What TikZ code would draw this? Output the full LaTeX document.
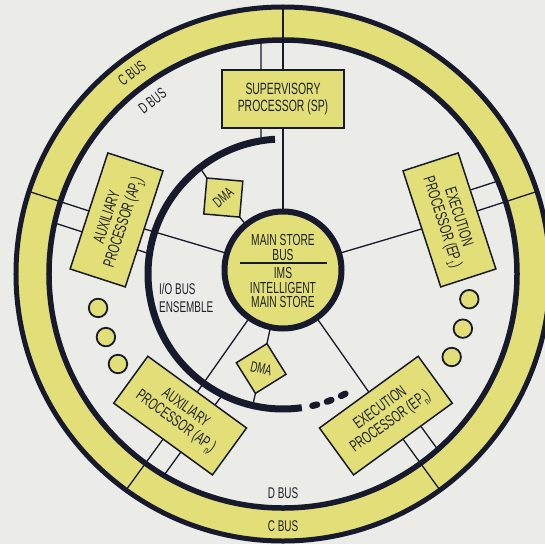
\documentclass[tikz,border=0pt]{standalone}
\usepackage{fontspec}
\setmainfont[FakeStretch=0.64]{Liberation Sans}
\usetikzlibrary{calc,shapes.geometric}
\pgfdeclarelayer{back}
\pgfdeclarelayer{wires}
\pgfsetlayers{back,wires,main}
\definecolor{bg}{HTML}{EBEBE7}
\definecolor{ylw}{HTML}{E2DF78}
\definecolor{ink}{HTML}{161A2C}
\definecolor{txt}{HTML}{202028}
\newcommand\mysub[1]{\raisebox{-0.5ex}{\fontsize{10.5}{10.5}\selectfont #1}}
\begin{document}
\begin{tikzpicture}[x=1pt,y=1pt,
  proc/.style={draw=ink, line width=1.5, fill=ylw, minimum width=122, minimum height=58, inner sep=0, outer sep=0, align=center, text=txt, font=\fontsize{16.3}{17}\selectfont},
  wire/.style={draw=ink, line width=1.3},
  lbl/.style={text=txt, font=\fontsize{15.5}{17.5}\selectfont, inner sep=0},
  mstext/.style={text=txt, align=center, inner sep=0, font=\fontsize{16}{14.5}\selectfont},
  dmabox/.style={diamond, aspect=1, draw=ink, line width=1.5, fill=ylw, minimum size=51, inner sep=0, outer sep=0, text=txt, font=\fontsize{15}{15}\selectfont},
  dotc/.style={circle, draw=ink, line width=1.8, fill=ylw, minimum size=18.5, inner sep=0}
]
\useasboundingbox (-283,-270) rectangle (262,274);
\begin{pgfonlayer}{back}
\fill[bg] (-283,-270) rectangle (262,274);
\fill[ylw, even odd rule] (0,0) circle[radius=267] (0,0) circle[radius=234];
\draw[ink, line width=5] (0,0) circle[radius=267];
\draw[ink, line width=5.5] (0,0) circle[radius=234];
\end{pgfonlayer}

% I/O bus ensemble arc
\draw[ink, line width=7] (93.4:135) arc[start angle=93.4, end angle=278, radius=135];
\foreach \a in {282.6, 289, 295.5}
  \draw[ink, line width=6.5, line cap=round] (\a:135) arc[start angle=\a, end angle=\a+2, radius=135];

% main store
\node[circle, draw=ink, line width=6, fill=ylw, minimum size=117, inner sep=0] (ms) at (0,4) {};
\draw[ink, line width=1.2] ($(ms.center)+(-43,7)$) -- ($(ms.center)+(44,7)$);
\node[mstext] (mstop) at (0,26.5) {MAIN STORE\\BUS};
\node[mstext] (msbot) at (0,-13.5) {IMS\\INTELLIGENT\\MAIN STORE};

% processors
\node[proc] (sp) at (90:175) {SUPERVISORY\\PROCESSOR (SP)};
\node[proc, rotate=72] (ap1) at (162:175) {AUXILIARY\\PROCESSOR (AP\mysub{1})};
\node[proc, rotate=-72] (ep1) at (18:175) {EXECUTION\\PROCESSOR (EP\mysub{1})};
\node[proc, rotate=-36] (apn) at (234:175) {AUXILIARY\\PROCESSOR (AP\mysub{n})};
\node[proc, rotate=36] (epn) at (306:175) {EXECUTION\\PROCESSOR (EP\mysub{n})};

% DMA
\node[dmabox, rotate=40] (dma1) at (128:97) {DMA};
\node[dmabox, rotate=-13] (dma2) at (257:97) {DMA};

% small circles
\node[dotc] (l1) at (190.4:188) {};
\node[dotc] (l2) at (199.6:188) {};
\node[dotc] (l3) at (208.6:188) {};
\node[dotc] (r1) at (-7.7:188) {};
\node[dotc] (r2) at (-16.9:188) {};
\node[dotc] (r3) at (-26.2:188) {};

% bus end points
\coordinate (spC) at (90:267);   \coordinate (spD) at (95.4:234);  \coordinate (spIO) at (99.4:135);
\coordinate (ap1C) at (162:267); \coordinate (ap1D) at (167.4:234); \coordinate (ap1IO) at (171.4:135);
\coordinate (ep1C) at (18:267);  \coordinate (ep1D) at (23.4:234);
\coordinate (apnC) at (234:267); \coordinate (apnD) at (239.4:234); \coordinate (apnIO) at (243.4:135);
\coordinate (epnC) at (306:267); \coordinate (epnD) at (311.4:234);
\coordinate (dma1IO) at (128:135);
\coordinate (dma2IO) at (257:135);

\begin{pgfonlayer}{wires}
\draw[wire] (sp.north) -- (spC);
\draw[wire] ($(sp.north)!22pt!(sp.north west)$) -- (spD);
\draw[wire] (sp.south) -- (ms);
\draw[wire] ($(sp.south)!22pt!(sp.south west)$) -- (spIO);

\draw[wire] (ap1.north) -- (ap1C);
\draw[wire] ($(ap1.north)!22pt!(ap1.north west)$) -- (ap1D);
\draw[wire] (ap1.south) -- (ms);
\draw[wire] ($(ap1.south)!22pt!(ap1.south west)$) -- (ap1IO);

\draw[wire] (ep1.north) -- (ep1C);
\draw[wire] ($(ep1.north)!22pt!(ep1.north west)$) -- (ep1D);
\draw[wire] (ep1.south) -- (ms);

\draw[wire] (apn.south) -- (apnC);
\draw[wire] ($(apn.south)!22pt!(apn.south east)$) -- (apnD);
\draw[wire] (apn.north) -- (ms);
\draw[wire] ($(apn.north)!22pt!(apn.north east)$) -- (apnIO);

\draw[wire] (epn.south) -- (epnC);
\draw[wire] ($(epn.south)!22pt!(epn.south east)$) -- (epnD);
\draw[wire] (epn.north) -- (ms);

\draw[wire] (dma1.north) -- (dma1IO);
\draw[wire] (dma1.south) -- (ms);
\draw[wire] (dma2.south) -- (dma2IO);
\draw[wire] (dma2.north) -- (ms);
\end{pgfonlayer}

% labels
\node[lbl, rotate=37] (cbusA) at (127:251) {C BUS};
\node[lbl, rotate=37] (dbusA) at (127:217) {D BUS};
\node[lbl] (dbusB) at (270:219) {D BUS};
\node[lbl] (cbusB) at (270:252) {C BUS};
\node[lbl, align=left, anchor=west] (io) at (-124,-24) {I/O BUS\\ENSEMBLE};
\end{tikzpicture}
\end{document}
